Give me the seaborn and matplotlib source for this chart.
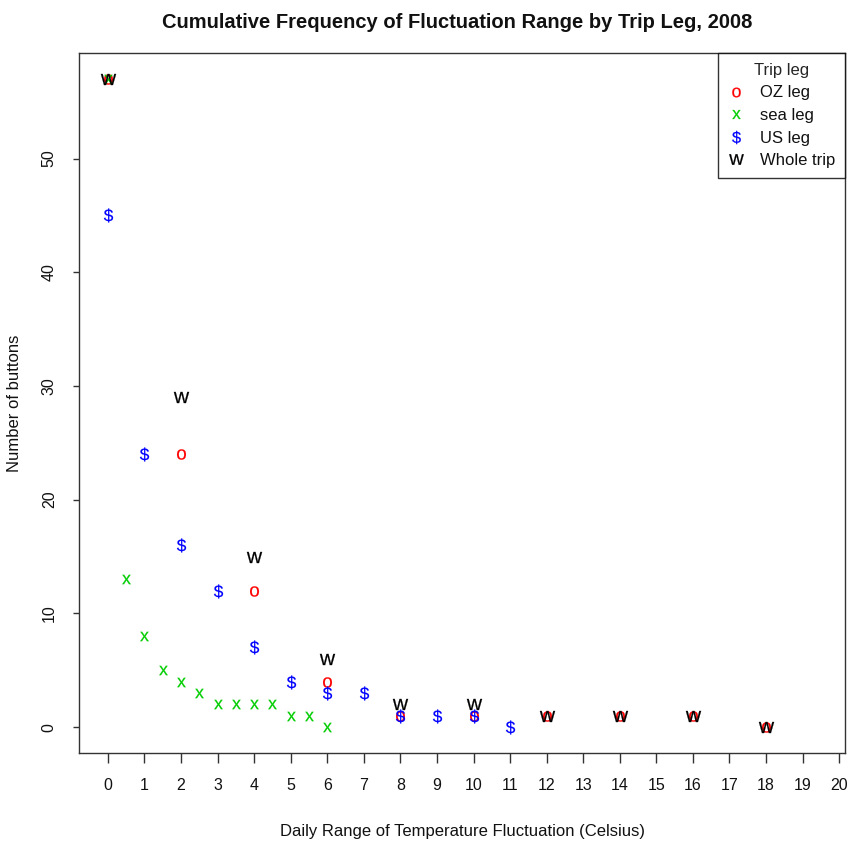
import matplotlib
matplotlib.use("Agg")
import matplotlib.pyplot as plt
import seaborn as sns
import pandas as pd
from matplotlib.lines import Line2D

# Data
oz_x = [0, 2, 4, 6, 8, 10, 12, 14, 16, 18]
oz_y = [57, 24, 12, 4, 1, 1, 1, 1, 1, 0]
sea_x = [0, 0.5, 1, 1.5, 2, 2.5, 3, 3.5, 4, 4.5, 5, 5.5, 6]
sea_y = [57, 13, 8, 5, 4, 3, 2, 2, 2, 2, 1, 1, 0]
us_x = [0, 1, 2, 3, 4, 5, 6, 7, 8, 9, 10, 11]
us_y = [45, 24, 16, 12, 7, 4, 3, 3, 1, 1, 1, 0]
whole_x = [0, 2, 4, 6, 8, 10, 12, 14, 16, 18]
whole_y = [57, 29, 15, 6, 2, 2, 1, 1, 1, 0]

legs = ["OZ leg", "sea leg", "US leg", "Whole trip"]
x_ticks = list(range(0, 21))
y_ticks = [0, 10, 20, 30, 40, 50]

sns.set_style("white")
plt.rcParams['font.family'] = ['Liberation Sans', 'DejaVu Sans']
plt.rcParams['mathtext.fontset'] = 'custom'
plt.rcParams['mathtext.rm'] = 'Liberation Sans'

df = pd.concat([
    pd.DataFrame({"x": oz_x, "y": oz_y, "leg": legs[0]}),
    pd.DataFrame({"x": sea_x, "y": sea_y, "leg": legs[1]}),
    pd.DataFrame({"x": us_x, "y": us_y, "leg": legs[2]}),
    pd.DataFrame({"x": whole_x, "y": whole_y, "leg": legs[3]}),
], ignore_index=True)

colors = {"OZ leg": "#FF0000", "sea leg": "#00CD00", "US leg": "#0000FF", "Whole trip": "#000000"}
markers = {"OZ leg": r"$\mathrm{o}$", "sea leg": r"$\mathrm{x}$",
           "US leg": r"$\mathrm{\$}$", "Whole trip": r"$\mathrm{w}$"}
sizes = {"OZ leg": 55, "sea leg": 45, "US leg": 100, "Whole trip": 120}
msize = {"OZ leg": 7.0, "sea leg": 6.5, "US leg": 9.5, "Whole trip": 10.5}

fig = plt.figure(figsize=(8.48, 8.42), dpi=100)
ax = fig.add_axes([79/848, 1 - 753/842, (845 - 79)/848, (753 - 53)/842])

for leg in legs:
    sub = df[df["leg"] == leg]
    sns.scatterplot(data=sub, x="x", y="y", ax=ax, color=colors[leg],
                    marker=markers[leg], s=sizes[leg], linewidth=0.15,
                    edgecolor=colors[leg], label=leg, legend=False)

ax.set_xlim(-0.79, 20.16)
ax.set_ylim(-2.28, 59.28)
ax.set_xticks(x_ticks)
ax.set_xticklabels([str(t) for t in x_ticks])
ax.set_yticks(y_ticks)
ax.set_yticklabels([str(t) for t in y_ticks], rotation=90, va="center")

for sp in ax.spines.values():
    sp.set_visible(True)
    sp.set_color("#333333")
    sp.set_linewidth(1.0)

ax.tick_params(axis="x", direction="out", length=7, width=1, color="#333333",
               labelsize=11.5, pad=11, bottom=True, labelcolor="#111111")
ax.tick_params(axis="y", direction="out", length=4, width=1, color="#333333",
               labelsize=11.5, pad=12, left=True, labelcolor="#111111")

ax.set_xlabel("Daily Range of Temperature Fluctuation (Celsius)", fontsize=12, labelpad=22,
              color="#111111")
ax.set_ylabel("Number of buttons", fontsize=12, labelpad=14, color="#111111")
fig.text(457 / 848, 1 - 22/842, "Cumulative Frequency of Fluctuation Range by Trip Leg, 2008",
         ha="center", va="center", fontsize=14.5, fontweight="bold", color="#111111")

handles = [Line2D([], [], linestyle="none", marker=markers[l], color=colors[l],
                  markersize=msize[l], markeredgewidth=0.15)
           for l in legs]
lg = ax.legend(handles, legs, title="Trip leg", loc="upper right", borderaxespad=0,
               frameon=True, fancybox=False, fontsize=12, title_fontsize=12,
               handlelength=1.0, handletextpad=0.9, labelspacing=0.45,
               borderpad=0.6)
lg.get_frame().set_edgecolor("black")
lg.get_frame().set_linewidth(1.0)
for t in lg.get_texts():
    t.set_color("#111111")

fig.savefig("out.png", dpi=100)
